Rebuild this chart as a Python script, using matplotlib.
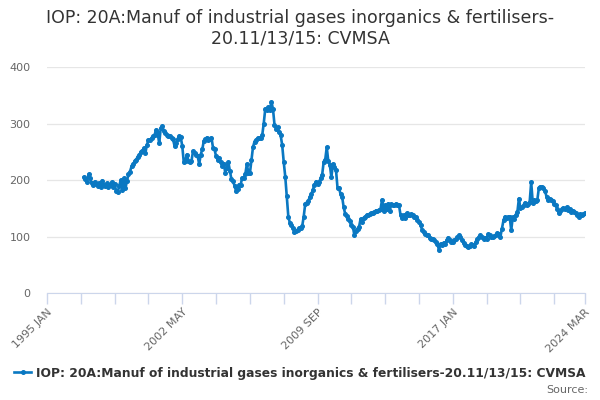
import numpy as np
import matplotlib.pyplot as plt

# -----------------------------
# Data: monthly index values, 1997 JAN - 2024 MAR
# -----------------------------
first_obs_month = 24  # 1997 JAN, months after 1995 JAN

v1997 = [205, 201, 196, 210, 203, 195, 192, 197, 193, 190, 195, 188]
v1998 = [199, 192, 189, 194, 187, 191, 196, 188, 193, 180, 178, 190]
v1999 = [200, 182, 203, 185, 198, 210, 215, 224, 228, 233, 236, 241]
v2000 = [244, 250, 252, 256, 248, 262, 271, 270, 274, 277, 280, 289]
v2001 = [283, 265, 292, 295, 287, 283, 280, 278, 277, 275, 272, 260]
v2002 = [266, 272, 278, 276, 260, 231, 234, 245, 234, 231, 234, 251]
v2003 = [248, 245, 243, 228, 245, 254, 269, 272, 275, 270, 272, 275]
v2004 = [257, 254, 242, 236, 239, 231, 225, 228, 213, 222, 231, 216]
v2005 = [201, 198, 190, 181, 184, 192, 192, 204, 204, 210, 228, 213]
v2006 = [212, 235, 258, 268, 271, 274, 274, 275, 279, 300, 326, 324]
v2007 = [329, 324, 338, 326, 298, 291, 294, 285, 279, 262, 232, 206]
v2008 = [171, 135, 124, 121, 115, 108, 109, 112, 115, 115, 118, 135]
v2009 = [158, 160, 163, 170, 175, 183, 192, 197, 193, 196, 203, 209]
v2010 = [232, 236, 258, 233, 227, 205, 228, 223, 218, 186, 185, 175]
v2011 = [170, 152, 140, 136, 131, 128, 121, 117, 102, 110, 114, 117]
v2012 = [131, 126, 132, 135, 138, 138, 140, 141, 141, 143, 146, 145]
v2013 = [147, 149, 165, 146, 155, 149, 158, 146, 157, 155, 155, 158]
v2014 = [155, 155, 138, 132, 138, 132, 141, 138, 138, 140, 138, 135]
v2015 = [134, 129, 126, 120, 112, 108, 105, 103, 102, 97, 96, 96]
v2016 = [93, 90, 87, 76, 87, 85, 89, 87, 93, 98, 94, 91]
v2017 = [90, 93, 96, 99, 102, 99, 94, 88, 85, 84, 82, 84]
v2018 = [86, 85, 84, 90, 96, 99, 102, 99, 96, 98, 96, 104]
v2019 = [102, 100, 99, 101, 103, 106, 105, 100, 114, 129, 135, 132]
v2020 = [134, 135, 111, 134, 131, 138, 143, 167, 150, 152, 155, 160]
v2021 = [156, 158, 161, 196, 160, 164, 163, 165, 186, 188, 187, 185]
v2022 = [181, 170, 165, 167, 165, 163, 158, 155, 149, 141, 146, 149]
v2023 = [151, 149, 152, 147, 149, 144, 146, 143, 142, 138, 135, 140]
v2024 = [138, 140, 141]

values = (v1997 + v1998 + v1999 + v2000 + v2001 + v2002 + v2003 + v2004
          + v2005 + v2006 + v2007 + v2008 + v2009 + v2010 + v2011 + v2012
          + v2013 + v2014 + v2015 + v2016 + v2017 + v2018 + v2019 + v2020
          + v2021 + v2022 + v2023 + v2024)

tick_labels = ["1995 JAN", "2002 MAY", "2009 SEP", "2017 JAN", "2024 MAR"]
y_ticks = [0, 100, 200, 300, 400]

title = "IOP: 20A:Manuf of industrial gases inorganics & fertilisers-\n20.11/13/15: CVMSA"
series_name = "IOP: 20A:Manuf of industrial gases inorganics & fertilisers-20.11/13/15: CVMSA"

# -----------------------------
# Plot
# -----------------------------
months = np.arange(first_obs_month, first_obs_month + len(values))
n_months = 350  # 1995 JAN .. 2024 MAR

fig = plt.figure(figsize=(6, 4), dpi=100)
ax = fig.add_axes([47 / 600, 1 - 293 / 400, 538 / 600, 226 / 400])

line_color = "#0a78c2"
ax.plot(months, values, color=line_color, lw=1.9, marker="o", ms=2.6,
        mec=line_color, mfc=line_color, label=series_name)

ax.set_xlim(0, n_months)
ax.set_ylim(0, 400)
ax.set_yticks(y_ticks)
ax.grid(axis="y", color="#e6e6e6", lw=0.9)
ax.set_axisbelow(True)

minor = list(range(0, 331, 22)) + [n_months]
ax.set_xticks(minor)
major_pos = [0, 88, 176, 264, n_months]
ax.set_xticklabels([tick_labels[major_pos.index(m)] if m in major_pos else "" for m in minor],
                   rotation=45, ha="right", rotation_mode="anchor")

for s in ["top", "right", "left"]:
    ax.spines[s].set_visible(False)
ax.spines["bottom"].set_color("#ccd6eb")
ax.tick_params(axis="x", colors="#ccd6eb", length=8, width=1, labelcolor="#666666",
               labelsize=8, pad=2)
ax.tick_params(axis="y", length=0, labelcolor="#666666", labelsize=8, pad=12)

fig.text(0.5, 0.978, title, ha="center", va="top", fontsize=12.5, color="#333333",
         linespacing=1.2)

fig.legend(loc="center", bbox_to_anchor=(0.5, 1 - 373 / 400), frameon=False,
           prop={"size": 8.8, "weight": "bold"}, labelcolor="#333333",
           handlelength=1.4, handletextpad=0.4)
fig.text(588 / 600, 1 - 390 / 400, "Source:", ha="right", va="center",
         fontsize=8, color="#666666")

fig.savefig("out.png", dpi=100)
